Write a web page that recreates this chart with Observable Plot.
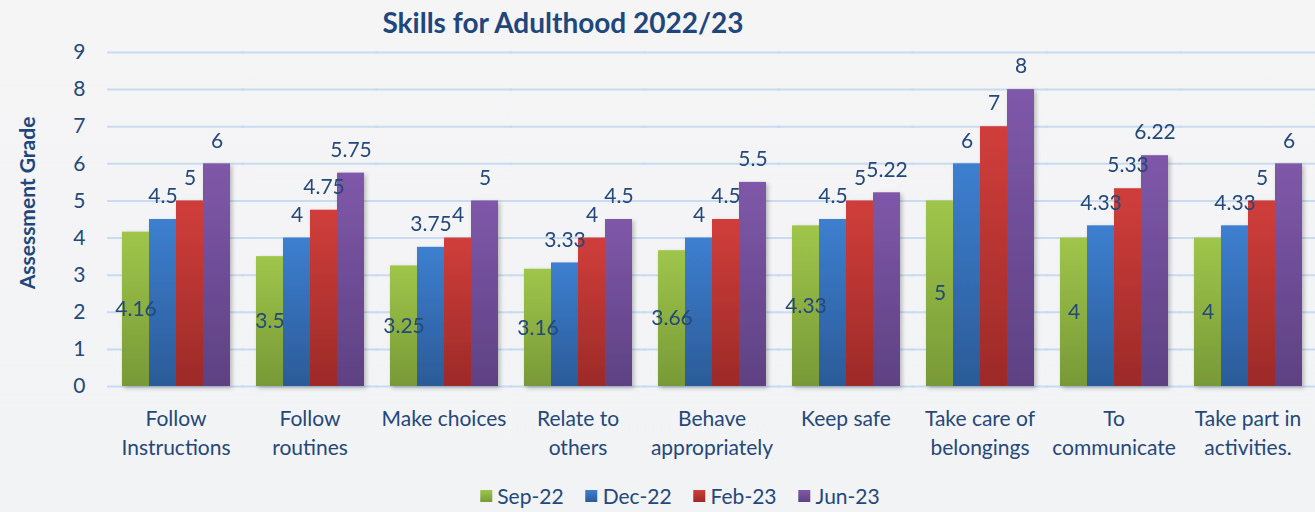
<!DOCTYPE html>
<html>
<head>
<meta charset="utf-8">
<script src="https://cdn.jsdelivr.net/npm/d3@7"></script>
<script src="https://cdn.jsdelivr.net/npm/@observablehq/plot@0.6"></script>
<style>
  html, body { margin: 0; padding: 0; }
  body { width: 1315px; height: 512px; background: linear-gradient(180deg, #f5f5f6 0%, #f2f3f5 100%); position: relative; overflow: hidden; font-family: Lato, "Open Sans", sans-serif; color: #24487a; }
  #title { position: absolute; left: 563px; top: 3px; transform: translateX(-50%); font-size: 28px; font-weight: bold; color: #1f477c; white-space: nowrap; line-height: 38px; }
  #ylabel { position: absolute; left: 26px; top: 203px; transform: translate(-50%, -50%) rotate(-90deg); font-size: 21px; font-weight: bold; color: #1f477c; white-space: nowrap; }
  #chart { position: absolute; left: 0; top: 40px; }
  #legend { position: absolute; left: 680px; top: 483px; transform: translateX(-50%); display: flex; gap: 22px; font-size: 21px; color: #24487a; white-space: nowrap; }
  #legend .item { display: flex; align-items: center; gap: 5px; }
  #legend .sw { width: 12px; height: 12px; display: inline-block; }
</style>
</head>
<body>
<div id="title">Skills for Adulthood 2022/23</div>
<div id="ylabel">Assessment Grade</div>
<div id="chart"></div>
<div id="legend"></div>
<script>
const categories = ["Follow Instructions", "Follow routines", "Make choices", "Relate to others", "Behave appropriately", "Keep safe", "Take care of belongings", "To communicate", "Take part in activities."];
const tickLabels = ["Follow\nInstructions", "Follow\nroutines", "Make choices", "Relate to\nothers", "Behave\nappropriately", "Keep safe", "Take care of\nbelongings", "To\ncommunicate", "Take part in\nactivities."];
const series = ["Sep-22", "Dec-22", "Feb-23", "Jun-23"];
const sep22 = [4.16, 3.5, 3.25, 3.16, 3.66, 4.33, 5, 4, 4];
const dec22 = [4.5, 4, 3.75, 3.33, 4, 4.5, 6, 4.33, 4.33];
const feb23 = [5, 4.75, 4, 4, 4.5, 5, 7, 5.33, 5];
const jun23 = [6, 5.75, 5, 4.5, 5.5, 5.22, 8, 6.22, 6];
const yTicks = [0, 1, 2, 3, 4, 5, 6, 7, 8, 9];

const gradStops = {
  "Sep-22": ["#9fc64b", "#789937"],
  "Dec-22": ["#3d7fd0", "#2b5b98"],
  "Feb-23": ["#d03e3b", "#9c2a28"],
  "Jun-23": ["#7f58a9", "#5e4183"]
};
const gradIds = {"Sep-22": "gSep", "Dec-22": "gDec", "Feb-23": "gFeb", "Jun-23": "gJun"};

const valuesBySeries = [sep22, dec22, feb23, jun23];
const rows = [];
series.forEach((s, si) => categories.forEach((c, ci) => rows.push({category: c, series: s, value: valuesBySeries[si][ci]})));
const greenRows = rows.filter(d => d.series === "Sep-22");
const otherRows = rows.filter(d => d.series !== "Sep-22");
const fmt = v => String(v);
const textColor = "#24487a";

const svg = Plot.plot({
  width: 1315,
  height: 430,
  marginLeft: 108,
  marginRight: 0,
  marginTop: 12,
  marginBottom: 84,
  style: {background: "transparent", color: textColor, fontFamily: "Lato, 'Open Sans', sans-serif", fontSize: "21px", overflow: "visible"},
  fx: {domain: categories, paddingInner: 0.19, paddingOuter: 0.09, label: null},
  x: {domain: series, padding: 0, axis: null},
  y: {domain: [0, 9], ticks: yTicks, label: null, tickSize: 0, tickPadding: 36},
  color: {domain: series, range: series.map(s => `url(#${gradIds[s]})`)},
  marks: [
    Plot.ruleY(yTicks, {y: d => d, stroke: "#c8dbf0", strokeWidth: 2, insetLeft: -14, insetRight: -14}),
    Plot.barY(rows, {fx: "category", x: "series", y: "value", fill: "series"}),
    Plot.text(greenRows, {fx: "category", x: "series", y: d => d.value / 2, text: d => fmt(d.value), fill: textColor, fontSize: 21}),
    Plot.text(otherRows, {fx: "category", x: "series", y: "value", text: d => fmt(d.value), dy: -23, fill: textColor, fontSize: 21}),
    Plot.axisFx({anchor: "bottom", tickSize: 0, tickPadding: 19, label: null, fontSize: 21, lineHeight: 1.38, tickFormat: d => tickLabels[categories.indexOf(d)]})
  ]
});

const defs = d3.select(svg).insert("defs", ":first-child");
series.forEach(s => {
  const g = defs.append("linearGradient").attr("id", gradIds[s]).attr("x1", 0).attr("y1", 0).attr("x2", 0).attr("y2", 1);
  g.append("stop").attr("offset", "0%").attr("stop-color", gradStops[s][0]);
  g.append("stop").attr("offset", "100%").attr("stop-color", gradStops[s][1]);
});
const flt = defs.append("filter").attr("id", "shadow").attr("x", "-20%").attr("y", "-5%").attr("width", "140%").attr("height", "110%");
flt.append("feDropShadow").attr("dx", 2).attr("dy", 2).attr("stdDeviation", 2).attr("flood-color", "#000").attr("flood-opacity", 0.25);
d3.select(svg).selectAll("g[aria-label='bar']").attr("filter", "url(#shadow)");

document.getElementById("chart").appendChild(svg);

const legend = d3.select("#legend");
series.forEach(s => {
  const item = legend.append("div").attr("class", "item");
  item.append("span").attr("class", "sw").style("background", `linear-gradient(180deg, ${gradStops[s][0]}, ${gradStops[s][1]})`);
  item.append("span").text(s);
});
</script>
</body>
</html>
